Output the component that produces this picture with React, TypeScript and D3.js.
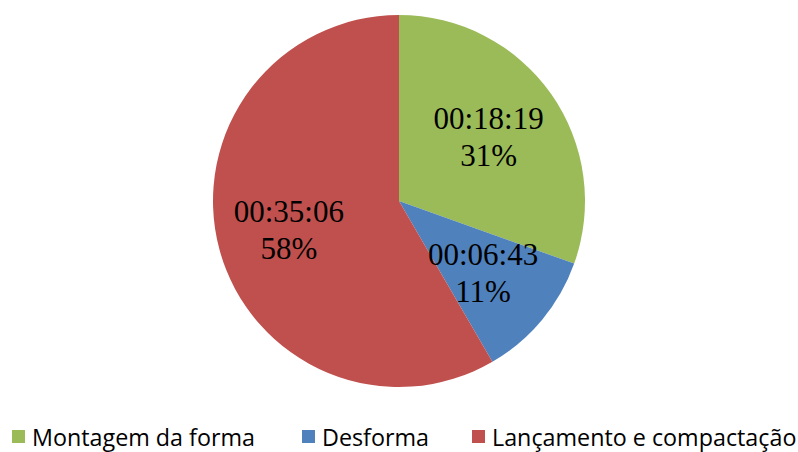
import React from "react";
import * as d3 from "d3";

const categories = ["Montagem da forma", "Desforma", "Lançamento e compactação"];
const durations = ["00:18:19", "00:06:43", "00:35:06"];
const percents = ["31%", "11%", "58%"];
const seconds = [1099, 403, 2106];
const colors = ["#9BBB59", "#4F81BD", "#C0504D"];

const W = 798;
const H = 452;
const cx = 399;
const cy = 201;
const R = 186;

export default function App() {
  const pie = d3.pie<number>().sort(null).value((d) => d)(seconds);
  const arc = d3.arc<d3.PieArcDatum<number>>().innerRadius(0).outerRadius(R);
  const labelArc = d3.arc<d3.PieArcDatum<number>>().innerRadius(224).outerRadius(0);
  const legendX = [12, 302, 472];
  return (
    <div style={{ position: "fixed", left: 0, top: 0 }}>
      <svg width={W} height={H} style={{ display: "block", background: "#fff" }}>
        <g transform={`translate(${cx},${cy})`}>
          {pie.map((p, i) => (
            <path key={i} d={arc(p) || ""} fill={colors[i]} stroke="none" />
          ))}
          {pie.map((p, i) => {
            const [lx, ly] = labelArc.centroid(p);
            return (
              <text
                key={"l" + i}
                x={lx}
                y={ly}
                textAnchor="middle"
                fontFamily="'Liberation Serif', 'Times New Roman', serif"
                fontSize={31}
                fill="#000"
              >
                <tspan x={lx - 2} dy={-8}>{durations[i]}</tspan>
                <tspan x={lx - 2} dy={37}>{percents[i]}</tspan>
              </text>
            );
          })}
        </g>
        <g>
          {categories.map((c, i) => (
            <g key={c} transform={`translate(${legendX[i]},0)`}>
              <rect x={0} y={430} width={13} height={13} fill={colors[i]} />
              <text
                x={20}
                y={446}
                fontFamily="'Open Sans', 'Liberation Sans', sans-serif"
                fontSize={23.3}
                fill="#000"
              >
                {c}
              </text>
            </g>
          ))}
        </g>
      </svg>
    </div>
  );
}
